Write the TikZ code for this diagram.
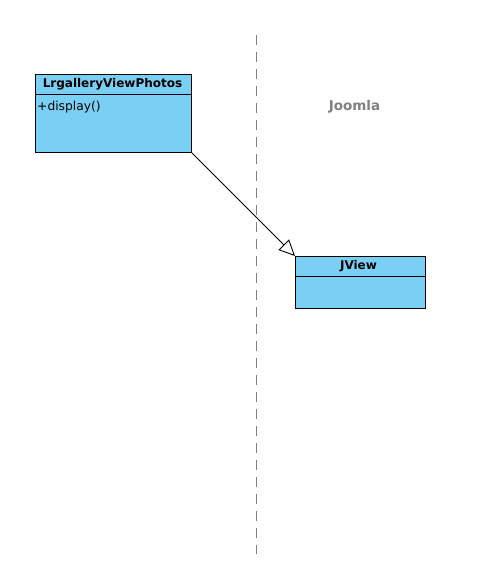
\documentclass[tikz,border=0pt]{standalone}
\usepackage{fontspec}
\setmainfont{DejaVu Sans}
\usetikzlibrary{arrows.meta}
\definecolor{classfill}{RGB}{122,207,245}
\definecolor{pkggray}{RGB}{128,128,128}
\tikzset{
  classbox/.style={draw=black, fill=classfill, line width=0.9pt, rectangle, inner sep=0pt, anchor=north west},
  classname/.style={font=\bfseries\fontsize{12}{14}\selectfont, inner sep=0pt},
  member/.style={font=\fontsize{12.3}{14}\selectfont, inner sep=0pt, anchor=base west},
  pkglabel/.style={font=\bfseries\fontsize{13.5}{15}\selectfont, text=pkggray, inner sep=0pt},
  boundary/.style={draw=pkggray, line width=0.9pt, dash pattern=on 10pt off 7pt},
  inherit/.style={draw=black, line width=0.9pt, -{Triangle[open, length=16pt, width=15pt]}}
}
\begin{document}
\begin{tikzpicture}[x=1pt, y=-1pt]
\useasboundingbox (0,0) rectangle (482,573);
% boundary
\coordinate (btop) at (256,35);
\coordinate (bbot) at (256,554);
\draw[boundary] (btop) -- (bbot);
\node[pkglabel] (joomla) at (354.5,106.5) {Joomla};
% class LrgalleryViewPhotos
\node[classbox, minimum width=156pt, minimum height=78pt] (photos) at (35,74) {};
\coordinate (ph1) at (35,94);
\coordinate (ph2) at (191,94);
\draw[line width=0.9pt] (ph1) -- (ph2);
\node[classname] (photosname) at (112.5,84.5) {LrgalleryViewPhotos};
\node[member] (display) at (37,110) {+display()};
% class JView
\node[classbox, minimum width=130pt, minimum height=52pt] (jview) at (295,256) {};
\coordinate (jh1) at (295,276);
\coordinate (jh2) at (425,276);
\draw[line width=0.9pt] (jh1) -- (jh2);
\node[classname] (jviewname) at (358.5,266.5) {JView};
% generalization
\draw[inherit] (photos.south east) -- (jview.north west);
\end{tikzpicture}
\end{document}
